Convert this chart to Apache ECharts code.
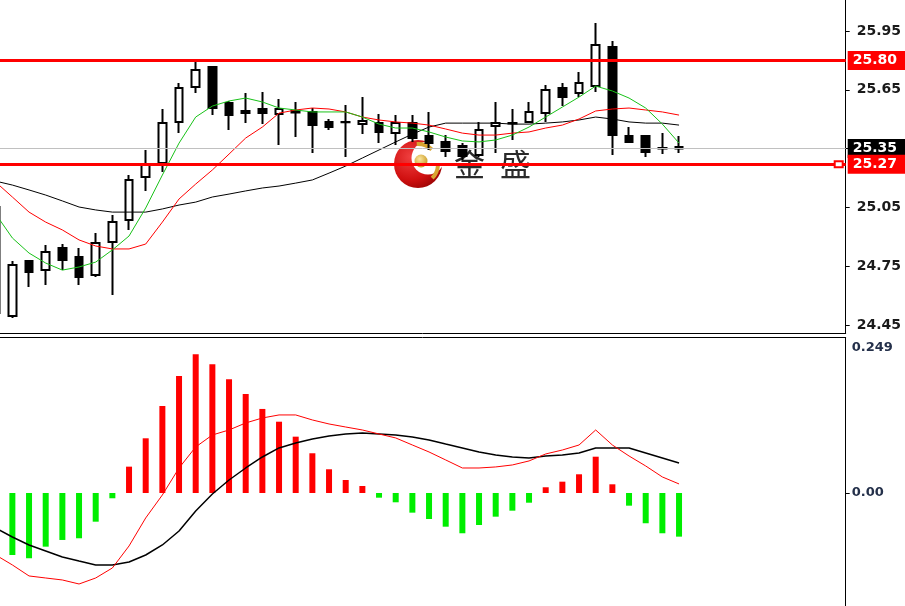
<!DOCTYPE html>
<html><head><meta charset="utf-8">
<script src="https://cdn.jsdelivr.net/npm/echarts@6/dist/echarts.min.js"></script>
<style>html,body{margin:0;padding:0;background:#fff}#c{width:905px;height:606px}</style>
</head><body><div id="c"></div>
<script>
// bar slots (first one partly off-screen, last ten empty)
const categories = Array.from({length: 52}, (_, i) => 'B' + (i + 1));

const opens  = [24.511,24.496,24.777,24.731,24.843,24.797,24.705,24.873,24.986,25.205,25.277,25.486,25.664,25.766,25.583,25.542,25.552,25.527,25.542,25.537,25.486,25.486,25.476,25.481,25.430,25.481,25.414,25.384,25.363,25.317,25.465,25.481,25.486,25.532,25.659,25.634,25.669,25.868,25.414,25.414,25.353,25.358];
const closes = [25.052,24.756,24.720,24.822,24.782,24.695,24.868,24.976,25.190,25.266,25.481,25.659,25.751,25.557,25.521,25.532,25.532,25.552,25.534,25.470,25.460,25.484,25.491,25.435,25.481,25.404,25.379,25.338,25.312,25.445,25.481,25.478,25.537,25.649,25.613,25.685,25.879,25.419,25.384,25.333,25.350,25.350];
const lows   = [24.500,24.486,24.644,24.654,24.731,24.654,24.695,24.603,24.935,25.134,25.231,25.430,25.634,25.521,25.445,25.481,25.476,25.368,25.409,25.328,25.445,25.307,25.424,25.379,25.368,25.384,25.343,25.307,25.292,25.307,25.328,25.394,25.481,25.486,25.567,25.613,25.639,25.317,25.379,25.307,25.322,25.328];
const highs  = [25.060,24.777,24.777,24.858,24.863,24.843,24.919,25.011,25.215,25.343,25.552,25.685,25.797,25.771,25.593,25.634,25.639,25.603,25.588,25.557,25.501,25.572,25.613,25.527,25.521,25.521,25.537,25.419,25.379,25.486,25.588,25.552,25.588,25.674,25.685,25.741,25.991,25.899,25.460,25.414,25.430,25.414];

const maFast = [25.016,24.894,24.817,24.766,24.730,24.746,24.771,24.833,24.904,25.047,25.215,25.378,25.511,25.567,25.593,25.608,25.588,25.557,25.547,25.537,25.537,25.537,25.511,25.475,25.455,25.455,25.435,25.409,25.389,25.384,25.394,25.419,25.460,25.511,25.562,25.613,25.669,25.644,25.608,25.557,25.475,25.378];
const maMid  = [25.179,25.103,25.026,24.975,24.935,24.884,24.853,24.838,24.838,24.863,24.975,25.093,25.169,25.241,25.322,25.404,25.460,25.531,25.547,25.557,25.552,25.537,25.511,25.496,25.486,25.480,25.470,25.450,25.429,25.419,25.419,25.429,25.435,25.455,25.470,25.501,25.542,25.552,25.557,25.547,25.537,25.521];
const maSlow = [25.184,25.164,25.139,25.113,25.083,25.052,25.037,25.026,25.026,25.026,25.042,25.062,25.077,25.103,25.118,25.134,25.149,25.159,25.174,25.190,25.225,25.261,25.302,25.343,25.384,25.424,25.460,25.480,25.480,25.480,25.480,25.475,25.475,25.480,25.486,25.496,25.511,25.501,25.486,25.480,25.480,25.470];

const macdHist = [-0.105,-0.1065,-0.1121,-0.0922,-0.0807,-0.0778,-0.0493,-0.0091,0.0452,0.0939,0.1494,0.2009,0.2382,0.2210,0.1953,0.1700,0.1443,0.1224,0.0967,0.0682,0.0407,0.0223,0.0120,-0.0081,-0.0160,-0.0338,-0.0447,-0.0579,-0.0692,-0.0550,-0.0407,-0.0304,-0.0167,0.0098,0.0194,0.0321,0.0623,0.0149,-0.0218,-0.0520,-0.0692,-0.0750];
const macdBlack = [-0.0601,-0.0756,-0.0893,-0.0996,-0.1099,-0.1168,-0.1236,-0.1236,-0.1185,-0.1065,-0.0893,-0.0653,-0.0309,-0.0017,0.0223,0.0429,0.0618,0.0773,0.0859,0.0927,0.0979,0.1013,0.1030,0.1013,0.0996,0.0962,0.0910,0.0841,0.0773,0.0704,0.0653,0.0618,0.0601,0.0635,0.0653,0.0687,0.0773,0.0773,0.0773,0.0687,0.0601,0.0515];
const macdRed = [-0.1065,-0.1236,-0.1425,-0.1460,-0.1494,-0.1563,-0.1460,-0.1288,-0.0910,-0.0429,-0.0034,0.0429,0.0790,0.0996,0.1082,0.1202,0.1288,0.1340,0.1340,0.1254,0.1185,0.1133,0.1082,0.1013,0.0945,0.0824,0.0704,0.0567,0.0429,0.0429,0.0447,0.0481,0.0550,0.0670,0.0738,0.0824,0.1082,0.0824,0.0635,0.0464,0.0275,0.0155];

const priceTicks = [24.45, 24.75, 25.05, 25.35, 25.65, 25.95];
const priceLabels = [24.45, 24.75, 25.05, 25.65, 25.95];
const macdLabels = [0.249, 0];
const levelTop = 25.80;
const levelBottom = 25.27;
const lastPrice = 25.35;

const candles = opens.map((o, i) => [o, closes[i], lows[i], highs[i]]);
const FONT = 'DejaVu Sans';

const boxLabel = (bg, val) => ({
  show: true, position: 'end', distance: 2,
  formatter: () => val.toFixed(2),
  color: '#fff', backgroundColor: bg,
  padding: [3, 14, 2, 5], fontFamily: FONT, fontSize: 14, fontWeight: 'bold'
});

const chart = echarts.init(document.getElementById('c'), null, {renderer: 'canvas'});
chart.setOption({
  animation: false,
  backgroundColor: '#fff',
  grid: [
    {left: -4.3, right: 59.3, top: 0, bottom: 272.5, outerBoundsMode: 'none', containLabel: false},
    {left: -4.3, right: 59.3, top: 337.5, bottom: 0, outerBoundsMode: 'none', containLabel: false}
  ],
  xAxis: [
    {gridIndex: 0, type: 'category', data: categories, boundaryGap: false, position: 'bottom',
     axisLine: {show: true, onZero: false, lineStyle: {color: '#000', width: 1}}, axisTick: {show: false}, axisLabel: {show: false}, splitLine: {show: false}},
    {gridIndex: 1, type: 'category', data: categories, boundaryGap: false, position: 'top',
     axisLine: {show: true, onZero: false, lineStyle: {color: '#000', width: 1}}, axisTick: {show: false}, axisLabel: {show: false}, splitLine: {show: false}}
  ],
  yAxis: [
    {gridIndex: 0, type: 'value', position: 'right', min: 24.4066, max: 26.1082, scale: true,
     axisLine: {show: true, lineStyle: {color: '#000', width: 1}},
     axisTick: {show: true, inside: false, length: 4, customValues: priceTicks, lineStyle: {color: '#000'}},
     axisLabel: {show: true, customValues: priceLabels, margin: 11, formatter: v => Number(v).toFixed(2),
       color: '#1a1a1a', fontFamily: FONT, fontSize: 14, fontWeight: 'bold'},
     splitLine: {show: false}},
    {gridIndex: 1, type: 'value', position: 'right', min: -0.1941, max: 0.2670, scale: true,
     axisLine: {show: true, lineStyle: {color: '#000', width: 1}},
     axisTick: {show: true, inside: false, length: 4, customValues: [0], lineStyle: {color: '#000'}},
     axisLabel: {show: true, customValues: macdLabels, margin: 6,
       formatter: v => (v === 0 ? '0.00' : String(v)),
       color: '#24304a', fontFamily: FONT, fontSize: 13, fontWeight: 'bold'},
     splitLine: {show: false}}
  ],
  series: [
    {type: 'candlestick', xAxisIndex: 0, yAxisIndex: 0, data: candles, barWidth: 8, z: 2,
     itemStyle: {color: '#fff', color0: '#000', borderColor: '#000', borderColor0: '#000', borderWidth: 2},
     markLine: {
       silent: true, symbol: ['none', 'none'], animation: false,
       data: [
         [{coord: [0, lastPrice], lineStyle: {color: '#c0c0c0', width: 1, type: 'solid'}, label: boxLabel('#000', lastPrice)},
          {coord: [51, lastPrice]}],
         [{coord: [0, levelTop], lineStyle: {color: '#ff0000', width: 3, type: 'solid'}, label: boxLabel('#ff0000', levelTop)},
          {coord: [51, levelTop]}],
         [{coord: [0, levelBottom], lineStyle: {color: '#ff0000', width: 3, type: 'solid'}, label: boxLabel('#ff0000', levelBottom)},
          {coord: [51, levelBottom], symbol: 'emptyRect', symbolSize: [8, 6], symbolRotate: 0, symbolOffset: [-7, 0],
           itemStyle: {color: '#ff0000'}}]
       ]
     }},
    {type: 'line', xAxisIndex: 0, yAxisIndex: 0, data: maSlow, showSymbol: false, z: 3,
     lineStyle: {color: '#000', width: 1}},
    {type: 'line', xAxisIndex: 0, yAxisIndex: 0, data: maMid, showSymbol: false, z: 3,
     lineStyle: {color: '#ff0000', width: 1}},
    {type: 'line', xAxisIndex: 0, yAxisIndex: 0, data: maFast, showSymbol: false, z: 3,
     lineStyle: {color: '#19c219', width: 1}},
    {type: 'bar', xAxisIndex: 1, yAxisIndex: 1, data: macdHist, barWidth: 6,
     itemStyle: {color: p => (p.value >= 0 ? '#ff0000' : '#00ee00')}},
    {type: 'line', xAxisIndex: 1, yAxisIndex: 1, data: macdBlack, showSymbol: false, z: 3,
     lineStyle: {color: '#000', width: 1.5}},
    {type: 'line', xAxisIndex: 1, yAxisIndex: 1, data: macdRed, showSymbol: false, z: 3,
     lineStyle: {color: '#ff0000', width: 1}}
  ],
  graphic: [
    {type: 'group', z: 100, children: [
      {type: 'circle', shape: {cx: 418, cy: 164, r: 24},
       style: {fill: {type: 'radial', x: 0.35, y: 0.35, r: 0.8,
         colorStops: [{offset: 0, color: '#f04040'}, {offset: 0.6, color: '#d01010'}, {offset: 1, color: '#8c0000'}]}}},
      {type: 'circle', shape: {cx: 428, cy: 158, r: 16.5}, style: {fill: '#fff'}},
      {type: 'arc', shape: {cx: 418, cy: 164, r: 20, startAngle: -Math.PI * 0.52, endAngle: -Math.PI * 0.26},
       style: {stroke: '#d8a530', lineWidth: 4, fill: null}},
      {type: 'arc', shape: {cx: 418, cy: 164, r: 20, startAngle: Math.PI * 0.02, endAngle: Math.PI * 0.25},
       style: {stroke: '#d8a530', lineWidth: 4, fill: null}},
      {type: 'circle', shape: {cx: 421, cy: 161, r: 6.5},
       style: {fill: {type: 'radial', x: 0.4, y: 0.35, r: 0.7,
         colorStops: [{offset: 0, color: '#fbe7a0'}, {offset: 1, color: '#c8961e'}]}}},
      {type: 'text', left: 454, top: 149, style: {text: '金', fill: '#2a2a2a', font: '31px "Noto Sans CJK SC"'}},
      {type: 'text', left: 500, top: 149, style: {text: '盛', fill: '#2a2a2a', font: '31px "Noto Sans CJK SC"'}}
    ]}
  ]
});
</script>
</body></html>
